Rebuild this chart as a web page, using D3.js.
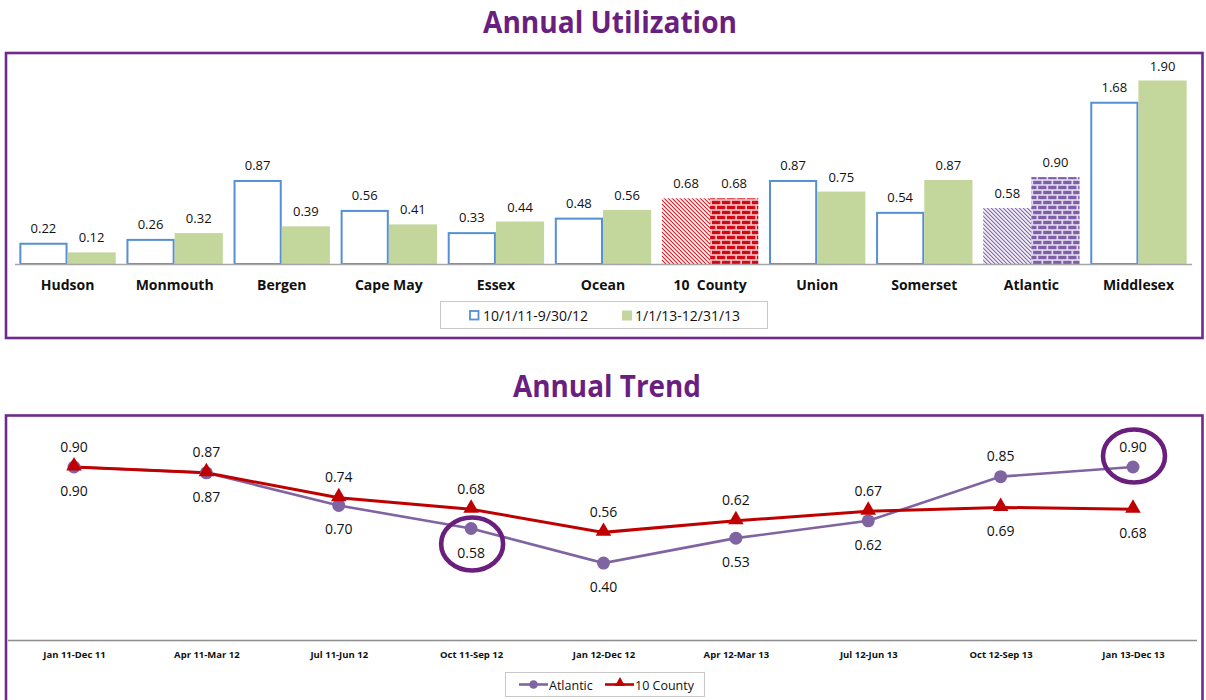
<!DOCTYPE html>
<html>
<head>
<meta charset="utf-8">
<script src="https://cdn.jsdelivr.net/npm/d3@7"></script>
<style>
  body { margin: 0; background: #fff; }
  svg { display: block; font-family: "Open Sans", "DejaVu Sans", sans-serif; }
</style>
</head>
<body>
<svg id="chart" width="1206" height="700"></svg>
<script>
// ---- Annual utilization by county ----
const counties = ["Hudson", "Monmouth", "Bergen", "Cape May", "Essex", "Ocean", "10  County", "Union", "Somerset", "Atlantic", "Middlesex"];
const priorYear = [0.22, 0.26, 0.87, 0.56, 0.33, 0.48, 0.68, 0.87, 0.54, 0.58, 1.68];
const currentYear = [0.12, 0.32, 0.39, 0.41, 0.44, 0.56, 0.68, 0.75, 0.87, 0.90, 1.90];
const yearLabels = ["10/1/11-9/30/12", "1/1/13-12/31/13"];

// ---- Rolling twelve-month trend ----
const periods = ["Jan 11-Dec 11", "Apr 11-Mar 12", "Jul 11-Jun 12", "Oct 11-Sep 12", "Jan 12-Dec 12", "Apr 12-Mar 13", "Jul 12-Jun 13", "Oct 12-Sep 13", "Jan 13-Dec 13"];
const atlantic = [0.90, 0.87, 0.70, 0.58, 0.40, 0.53, 0.62, 0.85, 0.90];
const tenCounty = [0.90, 0.87, 0.74, 0.68, 0.56, 0.62, 0.67, 0.69, 0.68];
const trendLabels = ["Atlantic", "10 County"];
const circledAtlantic = [3, 8];

const PURPLE_FRAME = "#6E2A8C";
const TITLE = "#6A1F80";
const BLUE = "#5590D4";
const GREEN = "#C3D69B";
const RED = "#C00000";
const LAVENDER = "#8064A2";

const svg = d3.select("#chart");
const defs = svg.append("defs");

// hatch + brick fills for the highlighted counties
function diagPattern(id, color) {
  const p = defs.append("pattern").attr("id", id)
    .attr("patternUnits", "userSpaceOnUse").attr("width", 4).attr("height", 4);
  p.append("rect").attr("width", 4).attr("height", 4).attr("fill", "#fff");
  p.append("path").attr("d", "M-1,-1 L5,5 M-1,3 L1,5 M3,-1 L5,1")
    .attr("stroke", color).attr("stroke-width", 1.05);
}
function brickPattern(id, color, mortar) {
  const p = defs.append("pattern").attr("id", id)
    .attr("patternUnits", "userSpaceOnUse").attr("width", 10).attr("height", 10);
  p.append("rect").attr("width", 10).attr("height", 10).attr("fill", mortar);
  p.append("rect").attr("x", 0).attr("y", 0.8).attr("width", 8.4).attr("height", 3.4).attr("fill", color);
  p.append("rect").attr("x", -5).attr("y", 5.8).attr("width", 8.4).attr("height", 3.4).attr("fill", color);
  p.append("rect").attr("x", 5).attr("y", 5.8).attr("width", 8.4).attr("height", 3.4).attr("fill", color);
}
diagPattern("diagRed", "#D00A14");
brickPattern("brickRed", "#D00A14", "#F5CACA");
diagPattern("diagPurple", "#6F4FA0");
brickPattern("brickPurple", "#7F5FA8", "#E6E0F0");
const patternFills = {
  "10  County": ["url(#diagRed)", "url(#brickRed)"],
  "Atlantic": ["url(#diagPurple)", "url(#brickPurple)"]
};

// ---------- panel frames & titles ----------
svg.append("rect").attr("x", 6).attr("y", 53).attr("width", 1196.5).attr("height", 285)
  .attr("fill", "none").attr("stroke", PURPLE_FRAME).attr("stroke-width", 2.6);
svg.append("rect").attr("x", 6).attr("y", 415.5).attr("width", 1196.5).attr("height", 300)
  .attr("fill", "none").attr("stroke", PURPLE_FRAME).attr("stroke-width", 2.6);

svg.append("text").attr("x", 610).attr("y", 33).attr("text-anchor", "middle")
  .attr("font-size", 31).attr("font-weight", 700).attr("fill", TITLE)
  .attr("textLength", 254).attr("lengthAdjust", "spacingAndGlyphs")
  .text("Annual Utilization");
svg.append("text").attr("x", 607).attr("y", 397).attr("text-anchor", "middle")
  .attr("font-size", 31).attr("font-weight", 700).attr("fill", TITLE)
  .attr("textLength", 188).attr("lengthAdjust", "spacingAndGlyphs")
  .text("Annual Trend");

// ---------- bar chart ----------
const barBase = 264;
const x0 = d3.scaleBand().domain(counties).range([14, 1192]).paddingInner(0.1).paddingOuter(0.05);
const x1 = d3.scaleBand().domain([0, 1]).range([0, x0.bandwidth()]);
const yBar = d3.scaleLinear().domain([0, 1.90]).range([barBase, 80.5]);

const barRows = counties.map((c, i) => ({ county: c, values: [priorYear[i], currentYear[i]] }));
const groups = svg.append("g").selectAll("g").data(barRows).join("g")
  .attr("transform", d => `translate(${x0(d.county)},0)`);

groups.each(function (d) {
  const g = d3.select(this);
  d.values.forEach((v, k) => {
    const pat = patternFills[d.county];
    const bx = x1(k), bw = x1.bandwidth();
    const r = g.append("rect")
      .attr("y", yBar(v)).attr("height", barBase - yBar(v));
    if (pat) {
      r.attr("x", bx).attr("width", bw).attr("fill", pat[k]);
    } else if (k === 0) {
      r.attr("x", bx + 1).attr("width", bw - 2).attr("y", yBar(v) + 1).attr("height", barBase - yBar(v) - 1)
        .attr("fill", "#fff").attr("stroke", BLUE).attr("stroke-width", 2);
    } else {
      r.attr("x", bx).attr("width", bw).attr("fill", GREEN);
    }
    g.append("text").attr("x", bx + bw / 2).attr("y", yBar(v) - 15)
      .attr("text-anchor", "middle").attr("dominant-baseline", "central")
      .attr("font-size", 13).attr("fill", "#111").text(v.toFixed(2));
  });
});

// category axis
const xAxisBar = svg.append("g").attr("transform", `translate(0,${barBase})`)
  .call(d3.axisBottom(x0).tickSize(0).tickPadding(16));
xAxisBar.select(".domain").attr("d", "M15,0.5H1192").attr("stroke", "#A6A6A6").attr("stroke-width", 1.3);
xAxisBar.selectAll("text").attr("font-family", "Open Sans, sans-serif").attr("font-size", 14)
  .attr("font-weight", 700).attr("fill", "#111").style("white-space", "pre");

// bar legend
const lg1 = svg.append("g");
lg1.append("rect").attr("x", 440.5).attr("y", 301.5).attr("width", 327).attr("height", 27)
  .attr("fill", "#fff").attr("stroke", "#C8C8C8");
lg1.append("rect").attr("x", 470).attr("y", 311).attr("width", 8.5).attr("height", 8.5)
  .attr("fill", "#fff").attr("stroke", BLUE).attr("stroke-width", 1.8);
lg1.append("text").attr("x", 483).attr("y", 315.5).attr("dominant-baseline", "central")
  .attr("font-size", 14).attr("fill", "#111").text(yearLabels[0]);
lg1.append("rect").attr("x", 622).attr("y", 310.5).attr("width", 10).attr("height", 10).attr("fill", GREEN);
lg1.append("text").attr("x", 635).attr("y", 315.5).attr("dominant-baseline", "central")
  .attr("font-size", 14).attr("fill", "#111").text(yearLabels[1]);

// ---------- trend chart ----------
const lineBase = 640;
const xPt = d3.scalePoint().domain(periods).range([74, 1133]);
const yLine = d3.scaleLinear().domain([0, 1]).range([lineBase, 447.8]);

const xAxisLine = svg.append("g").attr("transform", `translate(0,${lineBase})`)
  .call(d3.axisBottom(xPt).tickSize(0).tickPadding(11));
xAxisLine.select(".domain").attr("d", "M8,0.5H1197").attr("stroke", "#8C8C8C").attr("stroke-width", 1.3);
xAxisLine.selectAll("text").attr("font-family", "Open Sans, sans-serif").attr("font-size", 9.5)
  .attr("font-weight", 700).attr("fill", "#111");

const line = d3.line().x((d, i) => xPt(periods[i])).y(d => yLine(d));

svg.append("path").datum(atlantic).attr("d", line)
  .attr("fill", "none").attr("stroke", LAVENDER).attr("stroke-width", 2.6);
svg.append("path").datum(tenCounty).attr("d", line)
  .attr("fill", "none").attr("stroke", RED).attr("stroke-width", 3);

svg.append("g").selectAll("circle").data(atlantic).join("circle")
  .attr("cx", (d, i) => xPt(periods[i])).attr("cy", d => yLine(d)).attr("r", 6.5)
  .attr("fill", LAVENDER);

const tri = d3.symbol().type(d3.symbolTriangle).size(105);
svg.append("g").selectAll("path").data(tenCounty).join("path")
  .attr("d", tri)
  .attr("transform", (d, i) => `translate(${xPt(periods[i])},${yLine(d) - 1})`)
  .attr("fill", RED);

// value labels: the higher series is labelled above, the other below
function labelY(v, other, ownAboveOnTie) {
  const above = v > other || (v === other && ownAboveOnTie);
  return yLine(v) + (above ? -21 : 23.5);
}
const lbl = svg.append("g").attr("font-size", 14).attr("fill", "#111")
  .attr("text-anchor", "middle").attr("dominant-baseline", "central");
tenCounty.forEach((v, i) => {
  lbl.append("text").attr("x", xPt(periods[i])).attr("y", labelY(v, atlantic[i], true)).text(v.toFixed(2));
});
atlantic.forEach((v, i) => {
  lbl.append("text").attr("x", xPt(periods[i])).attr("y", labelY(v, tenCounty[i], false)).text(v.toFixed(2));
});

// rings around the highlighted Atlantic readings
circledAtlantic.forEach(i => {
  const v = atlantic[i];
  const above = v > tenCounty[i];
  svg.append("ellipse")
    .attr("cx", xPt(periods[i]) + 1)
    .attr("cy", yLine(v) + (above ? -11 : 15.5))
    .attr("rx", 31).attr("ry", 26.5)
    .attr("fill", "none").attr("stroke", "#6A1F7D").attr("stroke-width", 4.6);
});

// trend legend
const lg2 = svg.append("g");
lg2.append("rect").attr("x", 505.5).attr("y", 672.5).attr("width", 199).attr("height", 24)
  .attr("fill", "#fff").attr("stroke", "#C8C8C8");
lg2.append("line").attr("x1", 519).attr("x2", 548).attr("y1", 684.5).attr("y2", 684.5)
  .attr("stroke", LAVENDER).attr("stroke-width", 2.6);
lg2.append("circle").attr("cx", 533.5).attr("cy", 684.5).attr("r", 4.3).attr("fill", LAVENDER);
lg2.append("text").attr("x", 549).attr("y", 685).attr("dominant-baseline", "central")
  .attr("font-size", 12.5).attr("fill", "#111").text(trendLabels[0]);
lg2.append("line").attr("x1", 605).attr("x2", 634).attr("y1", 684.5).attr("y2", 684.5)
  .attr("stroke", RED).attr("stroke-width", 2.6);
lg2.append("path").attr("d", d3.symbol().type(d3.symbolTriangle).size(45))
  .attr("transform", "translate(620,683)").attr("fill", RED);
lg2.append("text").attr("x", 635).attr("y", 685).attr("dominant-baseline", "central")
  .attr("font-size", 12.5).attr("fill", "#111").text(trendLabels[1]);
</script>
</body>
</html>
